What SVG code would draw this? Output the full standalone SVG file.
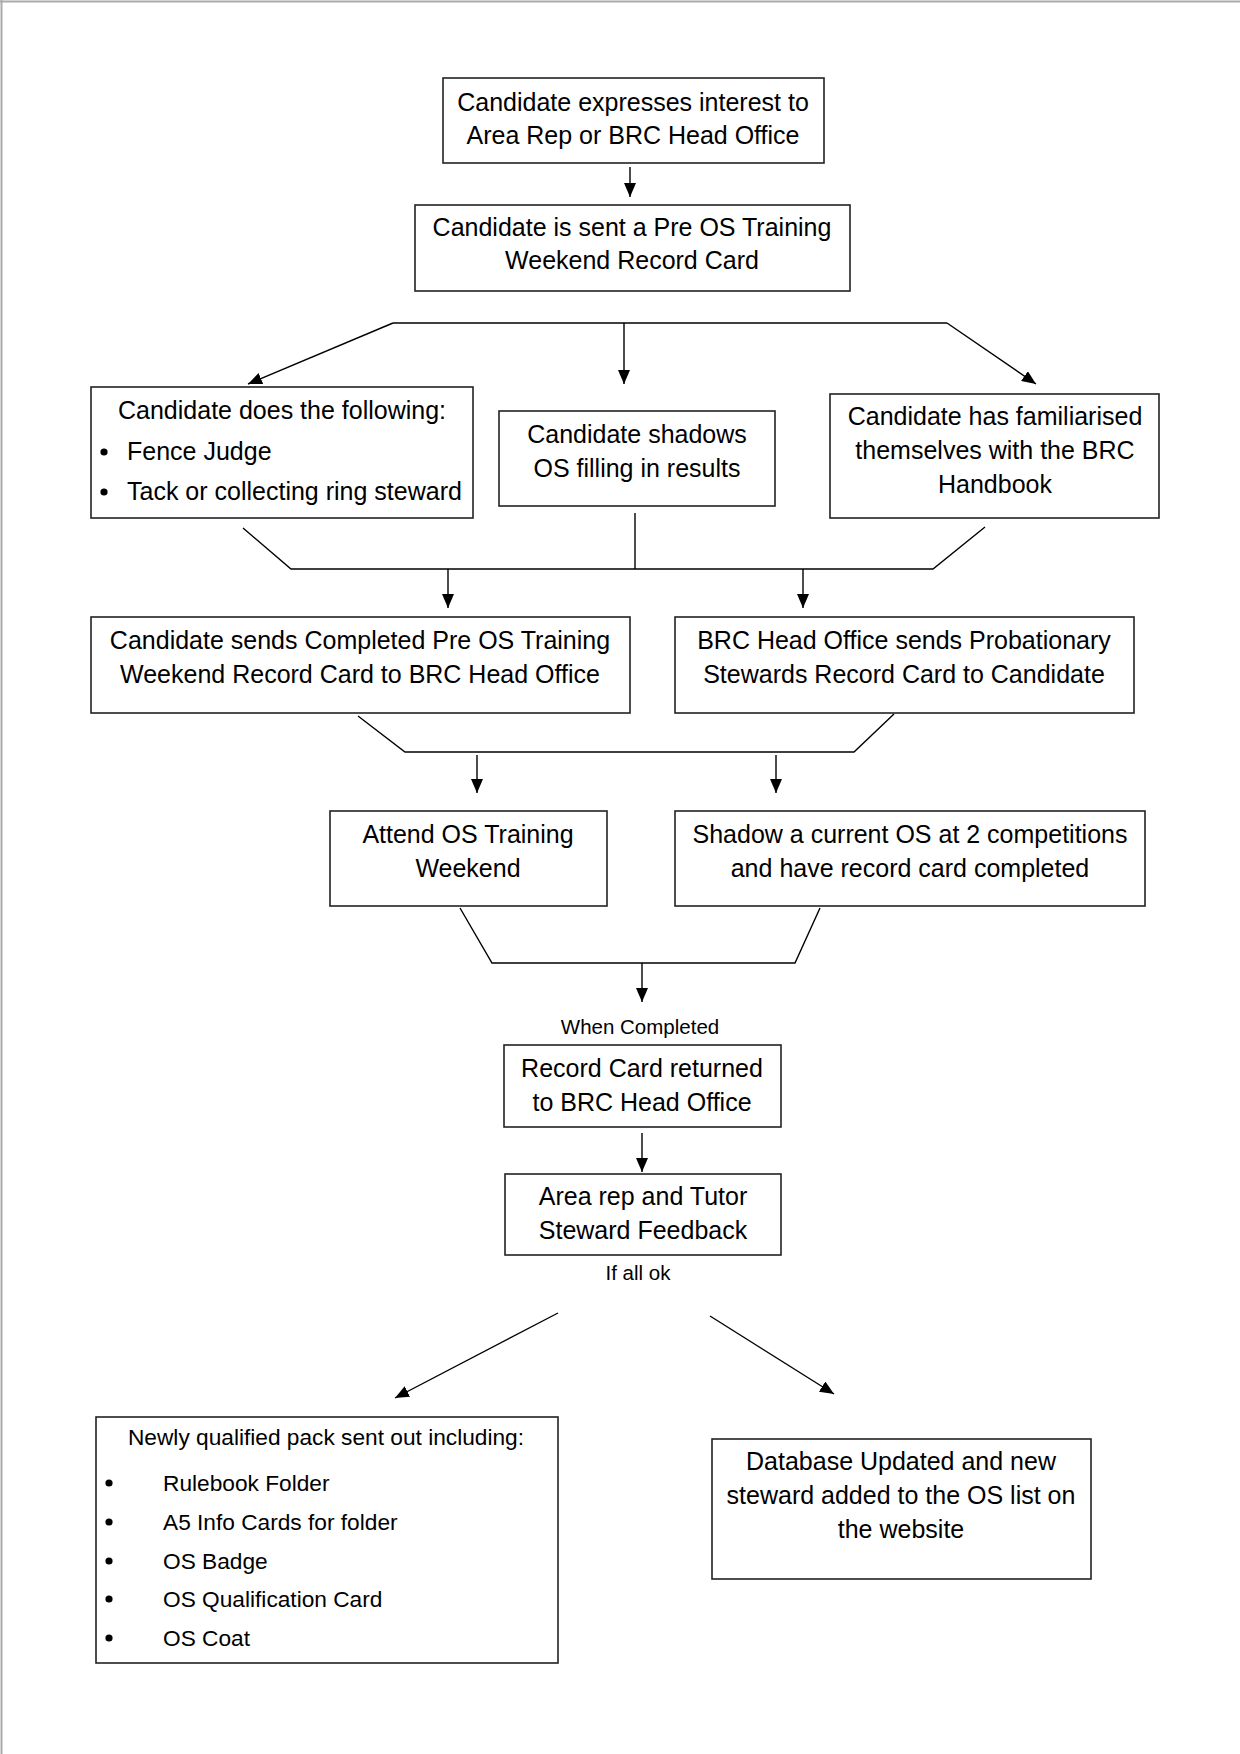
<svg xmlns="http://www.w3.org/2000/svg" width="1240" height="1754" viewBox="0 0 1240 1754">
<style>
text{font-family:"Liberation Sans",Arial,sans-serif;fill:#000}
.t{font-size:25px;text-anchor:middle}
.l{font-size:25px}
.s{font-size:20.5px;text-anchor:middle}
.p{font-size:22.7px}
.pc{font-size:22.7px;text-anchor:middle}
.box{fill:#fff;stroke:#222;stroke-width:1.6}
.c{fill:none;stroke:#000;stroke-width:1.4}
.a{fill:none;stroke:#000;stroke-width:1.4;marker-end:url(#ah)}
</style>
<defs>
<marker id="ah" markerUnits="userSpaceOnUse" markerWidth="14" markerHeight="12" viewBox="0 0 14 12" refX="14" refY="6" orient="auto">
<path d="M0,0 L14,6 L0,12 Z" fill="#000"/>
</marker>
</defs>
<rect width="1240" height="1754" fill="#fff"/>
<line x1="0" y1="1.5" x2="1240" y2="1.5" stroke="#aaa" stroke-width="2"/>
<line x1="1.5" y1="0" x2="1.5" y2="1754" stroke="#aaa" stroke-width="2"/>

<g id="connectors">
<line class="a" x1="630" y1="167" x2="630" y2="197"/>
<polyline class="c" points="393,323 947,323"/>
<line class="a" x1="393" y1="323" x2="248" y2="384"/>
<line class="a" x1="624" y1="323" x2="624" y2="384"/>
<line class="a" x1="947" y1="323" x2="1036" y2="384"/>
<polyline class="c" points="243,528 291,569 933,569 985,527"/>
<line class="c" x1="635" y1="513" x2="635" y2="569"/>
<line class="a" x1="448" y1="569" x2="448" y2="608"/>
<line class="a" x1="803" y1="569" x2="803" y2="608"/>
<polyline class="c" points="358,716 405,752 854,752 894,714"/>
<line class="a" x1="477" y1="755" x2="477" y2="793"/>
<line class="a" x1="776" y1="755" x2="776" y2="793"/>
<polyline class="c" points="460,908 492,963 795,963 820,908"/>
<line class="a" x1="642" y1="963" x2="642" y2="1002"/>
<line class="a" x1="642" y1="1133" x2="642" y2="1172"/>
<line class="a" x1="558" y1="1313" x2="395" y2="1398"/>
<line class="a" x1="710" y1="1316" x2="834" y2="1394"/>
</g>

<g id="n1">
<rect class="box" x="443" y="78" width="381" height="85"/>
<text class="t" x="633" y="111">Candidate expresses interest to</text>
<text class="t" x="633" y="144">Area Rep or BRC Head Office</text>
</g>
<g id="n2">
<rect class="box" x="415" y="205" width="435" height="86"/>
<text class="t" x="632" y="236">Candidate is sent a Pre OS Training</text>
<text class="t" x="632" y="269">Weekend Record Card</text>
</g>
<g id="n3a">
<rect class="box" x="91" y="387" width="382" height="131"/>
<text class="l" x="118" y="419">Candidate does the following:</text>
<circle cx="104" cy="452" r="3.6"/>
<text class="l" x="127" y="460">Fence Judge</text>
<circle cx="104" cy="492" r="3.6"/>
<text class="l" x="127" y="500">Tack or collecting ring steward</text>
</g>
<g id="n3b">
<rect class="box" x="499" y="411" width="276" height="95"/>
<text class="t" x="637" y="443">Candidate shadows</text>
<text class="t" x="637" y="477">OS filling in results</text>
</g>
<g id="n3c">
<rect class="box" x="830" y="394" width="329" height="124"/>
<text class="t" x="995" y="425">Candidate has familiarised</text>
<text class="t" x="995" y="459">themselves with the BRC</text>
<text class="t" x="995" y="493">Handbook</text>
</g>
<g id="n4a">
<rect class="box" x="91" y="617" width="539" height="96"/>
<text class="t" x="360" y="649">Candidate sends Completed Pre OS Training</text>
<text class="t" x="360" y="683">Weekend Record Card to BRC Head Office</text>
</g>
<g id="n4b">
<rect class="box" x="675" y="617" width="459" height="96"/>
<text class="t" x="904" y="649">BRC Head Office sends Probationary</text>
<text class="t" x="904" y="683">Stewards Record Card to Candidate</text>
</g>
<g id="n5a">
<rect class="box" x="330" y="811" width="277" height="95"/>
<text class="t" x="468" y="843">Attend OS Training</text>
<text class="t" x="468" y="877">Weekend</text>
</g>
<g id="n5b">
<rect class="box" x="675" y="811" width="470" height="95"/>
<text class="t" x="910" y="843">Shadow a current OS at 2 competitions</text>
<text class="t" x="910" y="877">and have record card completed</text>
</g>
<g id="lbl1">
<text class="s" x="640" y="1034">When Completed</text>
</g>
<g id="n6">
<rect class="box" x="504" y="1045" width="277" height="82"/>
<text class="t" x="642" y="1077">Record Card returned</text>
<text class="t" x="642" y="1111">to BRC Head Office</text>
</g>
<g id="n7">
<rect class="box" x="505" y="1174" width="276" height="81"/>
<text class="t" x="643" y="1205">Area rep and Tutor</text>
<text class="t" x="643" y="1239">Steward Feedback</text>
</g>
<g id="lbl2">
<text class="s" x="638" y="1280">If all ok</text>
</g>
<g id="n8">
<rect class="box" x="96" y="1417" width="462" height="246"/>
<text class="pc" x="326" y="1445">Newly qualified pack sent out including:</text>
<circle cx="109" cy="1483" r="3.6"/>
<text class="p" x="163" y="1491">Rulebook Folder</text>
<circle cx="109" cy="1522" r="3.6"/>
<text class="p" x="163" y="1530">A5 Info Cards for folder</text>
<circle cx="109" cy="1561" r="3.6"/>
<text class="p" x="163" y="1569">OS Badge</text>
<circle cx="109" cy="1599" r="3.6"/>
<text class="p" x="163" y="1607">OS Qualification Card</text>
<circle cx="109" cy="1638" r="3.6"/>
<text class="p" x="163" y="1646">OS Coat</text>
</g>
<g id="n9">
<rect class="box" x="712" y="1439" width="379" height="140"/>
<text class="t" x="901" y="1470">Database Updated and new</text>
<text class="t" x="901" y="1504">steward added to the OS list on</text>
<text class="t" x="901" y="1538">the website</text>
</g>
</svg>
